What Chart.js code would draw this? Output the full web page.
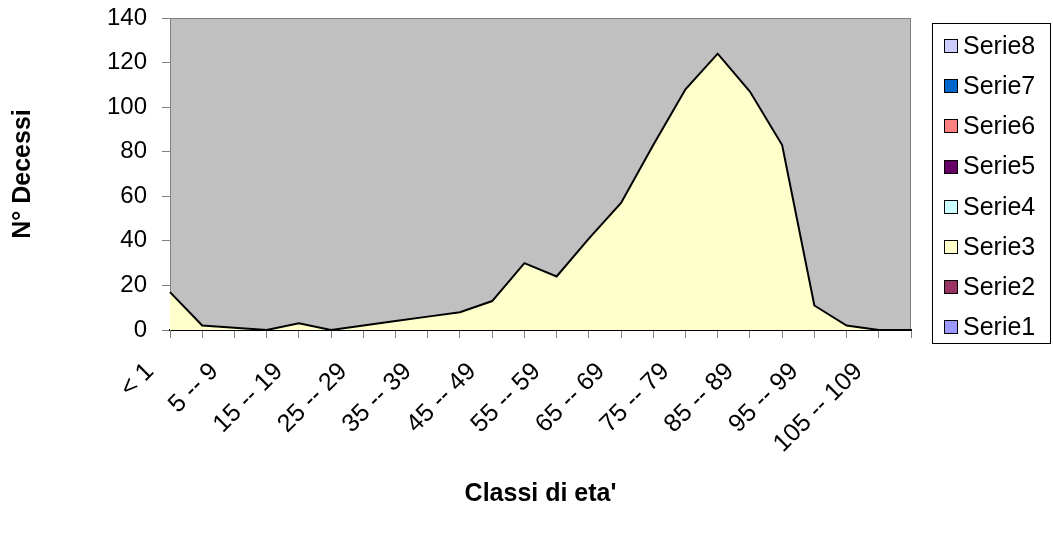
<!DOCTYPE html>
<html>
<head>
<meta charset="utf-8">
<script src="https://cdn.jsdelivr.net/npm/chart.js@4.4.1/dist/chart.umd.min.js"></script>
<style>
  html, body { margin: 0; padding: 0; background: #ffffff; }
  #wrap { width: 1053px; height: 538px; }
</style>
</head>
<body>
<div id="wrap"><canvas id="c" width="1053" height="538"></canvas></div>
<script>
// Age classes (x axis categories)
const classi = [
  '< 1', '1 -- 4', '5 -- 9', '10 -- 14', '15 -- 19', '20 -- 24', '25 -- 29',
  '30 -- 34', '35 -- 39', '40 -- 44', '45 -- 49', '50 -- 54', '55 -- 59',
  '60 -- 64', '65 -- 69', '70 -- 74', '75 -- 79', '80 -- 84', '85 -- 89',
  '90 -- 94', '95 -- 99', '100 -- 104', '105 -- 109', '110 +'
];

// Deaths per age class
const serie3 = [17, 2, 1, 0, 3, 0, 2, 4, 6, 8, 13, 30, 24, 41, 57, 83, 108, 124, 107, 83, 11, 2, 0, 0];

// Series names and their fill colours
const serieNames = ['Serie1', 'Serie2', 'Serie3', 'Serie4', 'Serie5', 'Serie6', 'Serie7', 'Serie8'];
const serieColors = ['#9999FF', '#993366', '#FFFFCC', '#CCFFFF', '#660066', '#FF8080', '#0066CC', '#CCCCFF'];
const serieData = [[], [], serie3, [], [], [], [], []];

// Y axis ticks
const yTicks = [0, 20, 40, 60, 80, 100, 120, 140];

const FONT = "'Liberation Sans', Arial, sans-serif";

const datasets = serieNames.map((name, i) => ({
  label: name,
  data: serieData[i],
  backgroundColor: serieColors[i],
  borderColor: '#000000',
  borderWidth: 2,
  fill: 'origin',
  tension: 0,
  pointRadius: 0,
  pointHoverRadius: 0,
  order: i
}));

// Grey plot area with a thin frame
const plotFrame = {
  id: 'plotFrame',
  beforeDraw(chart) {
    const { ctx, chartArea: a } = chart;
    ctx.save();
    ctx.fillStyle = '#C0C0C0';
    ctx.fillRect(a.left, a.top, a.right - a.left, a.bottom - a.top);
    ctx.strokeStyle = '#808080';
    ctx.lineWidth = 1;
    ctx.strokeRect(a.left + 0.5, a.top + 0.5, a.right - a.left - 1, a.bottom - a.top - 1);
    ctx.restore();
  }
};

// Boxed legend listing the series from last to first
const boxLegend = {
  id: 'boxLegend',
  afterDraw(chart, args, o) {
    const ctx = chart.ctx;
    ctx.save();
    ctx.strokeStyle = '#000000';
    ctx.lineWidth = 1;
    ctx.strokeRect(o.left + 0.5, o.top + 0.5, o.width, o.height);
    ctx.font = o.font;
    ctx.textBaseline = 'middle';
    ctx.textAlign = 'left';
    const list = chart.data.datasets.slice().reverse();
    list.forEach((d, k) => {
      const cy = o.firstY + k * o.step;
      const bx = o.boxX, by = Math.round(cy - o.box / 2);
      ctx.fillStyle = d.backgroundColor;
      ctx.fillRect(bx, by, o.box, o.box);
      ctx.strokeStyle = '#000000';
      ctx.strokeRect(bx + 0.5, by + 0.5, o.box - 1, o.box - 1);
      ctx.fillStyle = '#000000';
      ctx.fillText(d.label, o.textX, cy + 1);
    });
    ctx.restore();
  }
};

new Chart(document.getElementById('c'), {
  type: 'line',
  data: { labels: classi, datasets },
  plugins: [plotFrame, boxLegend],
  options: {
    responsive: false,
    animation: false,
    devicePixelRatio: 1,
    layout: { padding: { left: 0, top: 18, right: 142, bottom: 0 } },
    plugins: {
      legend: { display: false },
      tooltip: { enabled: false },
      boxLegend: {
        left: 932, top: 23, width: 118, height: 320,
        firstY: 46, step: 40.2, box: 14, boxX: 944, textX: 963,
        font: "25px " + FONT
      }
    },
    scales: {
      x: {
        type: 'category',
        offset: false,
        afterFit(s) { s.height = 538 - 330; },
        border: { display: true, color: '#000000', width: 2 },
        grid: { display: true, drawOnChartArea: false, drawTicks: true, tickLength: 8, color: '#808080' },
        ticks: {
          autoSkip: false,
          maxRotation: 45,
          minRotation: 45,
          padding: 19,
          labelOffset: -20,
          color: '#000000',
          font: { family: FONT, size: 25 },
          callback: (v, i) => (i % 2 === 0 ? classi[i] : '')
        },
        title: {
          display: true,
          text: "Classi di eta'",
          color: '#000000',
          font: { family: FONT, size: 25, weight: 'bold' },
          padding: { top: 0, bottom: 29 }
        }
      },
      y: {
        min: 0,
        max: 140,
        afterFit(s) { s.width = 170; s.paddingTop = 0; s.paddingBottom = 0; },
        afterBuildTicks(s) { s.ticks = yTicks.map(v => ({ value: v })); },
        border: { display: true, color: '#808080', width: 1 },
        grid: { display: true, drawOnChartArea: false, drawTicks: true, tickLength: 8, color: '#808080' },
        ticks: {
          padding: 15,
          color: '#000000',
          font: { family: FONT, size: 24 }
        },
        title: {
          display: true,
          text: 'N° Decessi',
          color: '#000000',
          font: { family: FONT, size: 25, weight: 'bold' },
          padding: { top: 8, bottom: 0 }
        }
      }
    }
  }
});
</script>
</body>
</html>
